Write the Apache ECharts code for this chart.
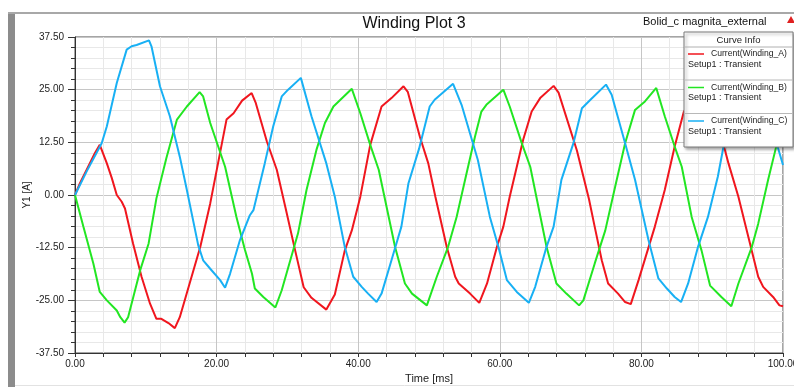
<!DOCTYPE html>
<html>
<head>
<meta charset="utf-8">
<script src="https://cdn.jsdelivr.net/npm/echarts@6/dist/echarts.min.js"></script>
<style>
html,body{margin:0;padding:0;background:#fff;}
#chart{width:794px;height:387px;}
</style>
</head>
<body>
<div id="chart"></div>
<script>
// ---- Data (time in ms, current in A) ----
var seriesNames = ['Current(Winding_A)', 'Current(Winding_B)', 'Current(Winding_C)'];
var setupLabel = 'Setup1 : Transient';
var seriesColors = ['#f0161e', '#22e622', '#18b0f4'];

var windingA = [
  [0,0],[0.7,2.8],[1.65,6],[2.8,9.9],[3.5,11.9],[4.5,7.5],[5.2,4],[5.9,0],[6.6,-1.6],[7.06,-3.2],
  [8.2,-11.5],[9.4,-19.4],[10.6,-25.8],[11.5,-29.4],[12.2,-29.4],[13.2,-30.4],[14.1,-31.6],[14.8,-29],
  [15.5,-25],[17.7,-12.3],[19.1,-2],[20.2,7.5],[21.4,17.9],[22.4,19.4],[23.6,22.4],[24.95,24.2],
  [25.5,22],[27.1,12.7],[28.5,6.0],[29.7,-2.8],[31.1,-13.2],[32.3,-21.9],[33.4,-24.4],[35.5,-27.2],
  [36.7,-23.6],[38.1,-13.2],[39.1,-8.4],[40.3,-0.4],[41.7,11.9],[43.3,21.0],[44.7,23.0],[46.4,25.8],
  [47.0,24.5],[48.7,13.9],[49.9,7.5],[50.9,-0.4],[52.5,-12.3],[53.7,-19.4],[54.2,-21.0],[55.8,-23.4],
  [57.1,-25.6],[58.2,-21.0],[59.6,-12.3],[60.5,-7.5],[61.4,-0.4],[63.3,13.1],[64.5,19.8],[65.7,23.0],
  [67.6,25.9],[68.3,24.3],[70.9,10.5],[72.6,-1],[73.4,-7.5],[74.4,-15.5],[75.3,-21.0],[76.7,-23.4],
  [77.7,-25.4],[78.5,-25.9],[79.6,-20.2],[81.9,-7.5],[83.3,1.2],[84.7,11.5],[86.0,19.8],[87.3,22.8],
  [89.0,25.5],[89.6,24],[91.6,11.9],[92.3,7.5],[93.7,-0.4],[95.1,-9.9],[96.5,-19.4],[97.2,-21.8],
  [98.6,-24.2],[99.5,-26.2],[100,-26.4]
];

var windingB = [
  [0,0],[1.18,-7.5],[2.6,-16.3],[3.5,-23.0],[4.5,-25.0],[5.9,-27.4],[6.4,-29.0],[7.0,-30.3],[7.5,-29.0],
  [9.2,-17.9],[10.4,-11.5],[11.5,-0.8],[12.9,8.7],[14.4,17.9],[15.8,21.0],[17.6,24.4],[18.1,23.4],
  [19.1,17.1],[21.2,6.7],[22.8,-5.2],[24.0,-13.0],[25.0,-18.7],[25.4,-22.2],[26.6,-24.2],[28.3,-26.7],
  [29.2,-22.6],[31.5,-9.1],[32.7,1.2],[34.1,10.7],[35.3,17.1],[36.5,21.0],[39.1,25.2],[40.3,19.4],
  [41.7,11.9],[42.9,6.0],[45.2,-12.3],[46.6,-21.0],[47.6,-23.4],[49.7,-26.2],[51.1,-19.4],[52.7,-12.3],
  [53.9,-5.2],[55.3,5.1],[56.5,13.9],[57.4,19.8],[58.1,21.4],[60.5,25.0],[61.4,21.0],[63.1,12.3],
  [64.3,6.7],[66.6,-12.3],[68.0,-21.0],[69.4,-23.4],[71.2,-26.2],[71.8,-25.0],[73.4,-16.3],[74.9,-8.4],
  [76.3,2.0],[77.7,12.3],[79.1,20.2],[80.5,22.2],[82.1,25.4],[83.3,18.7],[84.7,11.5],[85.7,6.7],
  [87.1,-5.2],[88.5,-13.2],[89.7,-21.5],[91.3,-24.2],[92.7,-26.4],[93.7,-21.0],[95.6,-12.3],[96.5,-6.8],
  [97.9,3.6],[99.1,11.9],[100,15]
];

var windingC = [
  [0,0],[1.65,5.6],[3.77,12.3],[4.5,16.3],[5.9,26.6],[7.3,34.5],[8.0,35.3],[8.7,35.6],[10.45,36.7],
  [10.8,35.3],[12.0,25.8],[13.4,18.7],[14.8,9.1],[15.8,1.2],[17.4,-11.9],[18.1,-15.5],[19.1,-17.5],
  [20.5,-20.2],[21.2,-22.0],[21.9,-18.7],[23.3,-10.7],[24.7,-4.8],[25.2,-3.6],[26.8,7.5],[28.0,16.3],
  [29.2,23.4],[30.1,25.0],[31.9,27.8],[33.4,18.7],[35.5,7.5],[36.7,-0.4],[38.1,-12.3],[39.3,-19.4],
  [40.5,-21.8],[41.4,-23.4],[42.6,-25.4],[43.3,-23.4],[44.7,-15.5],[46.1,-7.5],[47.1,2.8],[48.6,11],
  [50.1,21.0],[50.8,22.6],[53.4,26.4],[54.6,21.4],[56.9,8.3],[58.6,-5.2],[59.8,-12.3],[61.0,-20.2],
  [62.4,-23.0],[64.1,-25.6],[65.0,-21.8],[66.6,-12.3],[67.6,-7.5],[68.7,3.6],[70.4,12.3],[71.6,20.6],
  [72.8,22.6],[75.0,26.2],[75.8,23.8],[77.7,12.3],[79.1,3.6],[81.0,-10.7],[82.4,-19.8],[83.6,-22.2],
  [84.7,-24.2],[85.6,-25.4],[86.6,-21.0],[88.0,-12.3],[89.4,-5.2],[90.8,4.4],[91.6,11.5],[92.8,19.5],
  [94.0,22.5],[96.4,26.0],[97.1,24],[99.1,12.3],[100,7.1]
];

var seriesData = [windingA, windingB, windingC];

var chartTitle = 'Winding Plot 3';
var projectLabel = 'Bolid_c magnita_external';
var legendHeader = 'Curve Info';
var xAxisName = 'Time [ms]';
var yAxisName = 'Y1 [A]';

// ---- Chart ----
var FONT = '"Liberation Sans", Arial, sans-serif';
var chart = echarts.init(document.getElementById('chart'), null, {renderer: 'canvas'});

var legendGraphics = [];
var lgX = 684, lgY = 32, lgW = 109, lgH = 115;
legendGraphics.push({
  type: 'rect', shape: {x: lgX, y: lgY, width: lgW, height: lgH},
  style: {fill: '#fff', stroke: '#7a7a7a', lineWidth: 1, shadowBlur: 3, shadowOffsetX: 2, shadowOffsetY: 2, shadowColor: 'rgba(0,0,0,0.35)'},
  z: 100
});
legendGraphics.push({
  type: 'text', style: {text: legendHeader, x: lgX + lgW / 2, y: 40, align: 'center', verticalAlign: 'middle', font: '9.5px ' + FONT, fill: '#222'}, z: 101
});
legendGraphics.push({
  type: 'line', shape: {x1: lgX, y1: 47, x2: lgX + lgW, y2: 47}, style: {stroke: '#b0b0b0', lineWidth: 1}, z: 101
});
seriesNames.forEach(function (name, i) {
  var baseY = 54 + i * 33.5;
  legendGraphics.push({
    type: 'line', shape: {x1: 688, y1: baseY, x2: 704, y2: baseY}, style: {stroke: seriesColors[i], lineWidth: 1.5}, z: 101
  });
  legendGraphics.push({
    type: 'text', style: {text: name, x: 711, y: baseY, align: 'left', verticalAlign: 'middle', font: '8.6px ' + FONT, fill: '#222'}, z: 101
  });
  legendGraphics.push({
    type: 'text', style: {text: setupLabel, x: 688, y: baseY + 10.5, align: 'left', verticalAlign: 'middle', font: '9px ' + FONT, fill: '#222'}, z: 101
  });
  if (i < seriesNames.length - 1) {
    legendGraphics.push({
      type: 'line', shape: {x1: lgX, y1: baseY + 26, x2: lgX + lgW, y2: baseY + 26}, style: {stroke: '#b8b8b8', lineWidth: 1}, z: 101
    });
  }
});

var option = {
  animation: false,
  backgroundColor: '#fff',
  textStyle: {fontFamily: FONT},
  title: {
    text: chartTitle, left: 409, top: 11, textAlign: 'center',
    textStyle: {fontSize: 16, fontWeight: 'normal', color: '#111', fontFamily: FONT}
  },
  grid: {
    left: 75, right: 11, top: 37, bottom: 34,
    outerBoundsMode: 'none', containLabel: false,
    show: true, borderColor: '#4a4a4a', borderWidth: 1, backgroundColor: 'transparent'
  },
  xAxis: {
    type: 'value', min: 0, max: 100, interval: 20,
    name: xAxisName, nameLocation: 'middle', nameGap: 20, nameMoveOverlap: false,
    nameTextStyle: {fontSize: 11, color: '#222', fontFamily: FONT},
    axisLine: {show: true, onZero: false, lineStyle: {color: '#333', width: 1}},
    axisTick: {show: true, length: 4, lineStyle: {color: '#333'}},
    minorTick: {show: true, splitNumber: 5, length: 4, lineStyle: {color: '#333'}},
    splitLine: {show: true, lineStyle: {color: '#c6c6c6', width: 1}},
    minorSplitLine: {show: true, lineStyle: {color: '#e8e8e8', width: 1}},
    axisLabel: {fontSize: 10, color: '#222', margin: 6, fontFamily: FONT, formatter: function (v) { return v.toFixed(2); }}
  },
  yAxis: {
    type: 'value', min: -37.5, max: 37.5, interval: 12.5,
    name: yAxisName, nameLocation: 'middle', nameGap: 43, nameRotate: 90, nameMoveOverlap: false,
    nameTextStyle: {fontSize: 10, color: '#222', fontFamily: FONT},
    axisLine: {show: true, onZero: false, lineStyle: {color: '#333', width: 1}},
    axisTick: {show: true, length: 7, lineStyle: {color: '#333'}},
    minorTick: {show: true, splitNumber: 5, length: 4, lineStyle: {color: '#333'}},
    splitLine: {show: true, lineStyle: {color: '#c6c6c6', width: 1}},
    minorSplitLine: {show: true, lineStyle: {color: '#e8e8e8', width: 1}},
    axisLabel: {fontSize: 10, color: '#222', margin: 11, fontFamily: FONT, formatter: function (v) { return v.toFixed(2); }}
  },
  series: seriesNames.map(function (name, i) {
    return {
      name: name, type: 'line', data: seriesData[i], showSymbol: false, symbol: 'none',
      lineStyle: {color: seriesColors[i], width: 2}, itemStyle: {color: seriesColors[i]},
      clip: true, z: 3
    };
  }),
  graphic: [
    {type: 'rect', shape: {x: 8, y: 12, width: 7, height: 375}, style: {fill: '#8c8c8c'}, z: 50},
    {type: 'line', shape: {x1: 8, y1: 13, x2: 794, y2: 13}, style: {stroke: '#a8a8a8', lineWidth: 2}, z: 50},
    {type: 'line', shape: {x1: 15, y1: 385.5, x2: 794, y2: 385.5}, style: {stroke: '#e2e2e2', lineWidth: 1}, z: 50},
    {type: 'text', style: {text: projectLabel, x: 643, y: 22, align: 'left', verticalAlign: 'middle', font: '11px ' + FONT, fill: '#111'}, z: 50},
    {type: 'polygon', shape: {points: [[791, 16], [787, 23], [795, 23]]}, style: {fill: '#e02020'}, z: 50}
  ].concat(legendGraphics)
};
chart.setOption(option);
</script>
</body>
</html>
